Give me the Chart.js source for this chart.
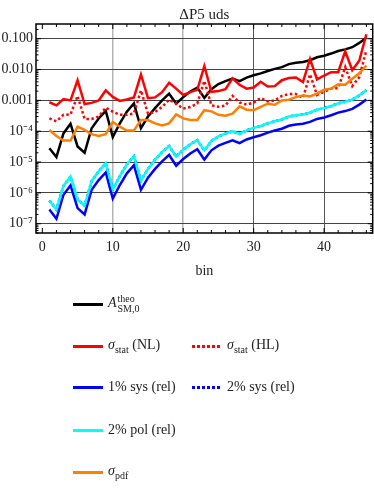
<!DOCTYPE html>
<html>
<head>
<meta charset="utf-8">
<script src="https://cdn.jsdelivr.net/npm/chart.js@4.4.1/dist/chart.umd.min.js"></script>
<style>
  body { margin: 0; background: #fff; }
  #wrap { position: relative; width: 374px; height: 494px; }
  #legend { position: absolute; left: 0; top: 0; width: 374px; height: 494px;
            font-family: "Liberation Serif", serif; font-size: 14px; color: #222; }
  .item { position: absolute; height: 20px; display: flex; align-items: center; white-space: nowrap; }
  .swatch { width: 30px; height: 3px; margin-right: 5px; }
  .ss { display: inline-flex; flex-direction: column; font-size: 10px; line-height: 10px; margin-left: 1px; vertical-align: 5px; }
  sub { font-size: 10px; }
</style>
</head>
<body>
<div id="wrap">
  <canvas id="chart" width="374" height="494"></canvas>
  <div id="legend"></div>
</div>
<script>
// bins and series
const bins = [1,2,3,4,5,6,7,8,9,10,11,12,13,14,15,16,17,18,19,20,21,22,23,24,25,26,27,28,29,30,31,32,33,34,35,36,37,38,39,40,41,42,43,44,45,46];

const theo = [2.8e-5,1.45e-5,8.5e-5,1.75e-4,3.2e-5,2.0e-5,1.25e-4,2.6e-4,4.6e-4,6.5e-5,
  1.8e-4,4.3e-4,8.0e-4,1.25e-4,3.0e-4,5.6e-4,1.0e-3,1.65e-3,7.8e-4,1.28e-3,
  1.95e-3,2.6e-3,1.2e-3,2.3e-3,3.4e-3,4.2e-3,5.1e-3,4.2e-3,5.5e-3,6.5e-3,
  7.5e-3,9.0e-3,1.05e-2,1.2e-2,1.5e-2,1.65e-2,1.75e-2,2.0e-2,2.5e-2,2.8e-2,
  3.3e-2,4.0e-2,4.5e-2,5.3e-2,7.3e-2,1.07e-1];

const statNL = [8.7e-4,6.9e-4,1.1e-3,1.0e-3,4.5e-3,7.6e-4,8.3e-4,1.0e-3,2.1e-3,1.3e-3,
  9.6e-4,1.07e-3,1.25e-3,6.9e-3,1.18e-3,1.25e-3,1.85e-3,3.7e-3,2.4e-3,1.5e-3,
  1.85e-3,2.2e-3,1.3e-2,1.9e-3,2.0e-3,2.3e-3,5.2e-3,3.2e-3,2.4e-3,2.6e-3,
  4.0e-3,2.8e-3,2.9e-3,4.5e-3,5.3e-3,5.5e-3,3.9e-3,2.2e-2,4.8e-3,6.4e-3,
  8.2e-3,8.2e-3,3.9e-2,9.5e-3,1.95e-2,1.4e-1];

const statHL = [2.6e-4,2.1e-4,3.4e-4,3.5e-4,1.4e-3,2.5e-4,2.5e-4,3.0e-4,5.8e-4,4.3e-4,
  3.4e-4,3.4e-4,3.8e-4,2.1e-3,3.7e-4,4.2e-4,6.1e-4,1.05e-3,7.9e-4,5.4e-4,
  6.1e-4,7.9e-4,4.3e-3,6.9e-4,6.2e-4,6.8e-4,1.4e-3,8.5e-4,7.3e-4,8.5e-4,
  1.2e-3,9.2e-4,1.0e-3,1.4e-3,1.6e-3,1.6e-3,1.2e-3,7.0e-3,1.5e-3,1.9e-3,
  2.4e-3,2.5e-3,1.2e-2,2.9e-3,5.7e-3,4.2e-2];

const sys1 = [2.9e-7,1.45e-7,8.7e-7,1.75e-6,3.2e-7,2.0e-7,1.25e-6,2.6e-6,4.6e-6,6.5e-7,
  1.8e-6,4.3e-6,7.9e-6,1.25e-6,3.1e-6,6.0e-6,1.05e-5,1.7e-5,7.6e-6,1.25e-5,
  1.9e-5,2.6e-5,1.2e-5,2.4e-5,3.4e-5,4.2e-5,5.1e-5,4.1e-5,5.4e-5,6.4e-5,
  7.4e-5,9.0e-5,1.05e-4,1.2e-4,1.5e-4,1.65e-4,1.75e-4,2.0e-4,2.5e-4,2.8e-4,
  3.3e-4,4.0e-4,4.5e-4,5.3e-4,7.3e-4,1.07e-3];

const sys2 = [5.7e-7,2.9e-7,1.7e-6,3.4e-6,6.0e-7,3.9e-7,2.4e-6,5.0e-6,9.2e-6,1.3e-6,
  3.5e-6,8.5e-6,1.55e-5,2.5e-6,6.0e-6,1.2e-5,2.1e-5,3.3e-5,1.5e-5,2.5e-5,
  3.8e-5,5.1e-5,2.4e-5,4.8e-5,6.8e-5,8.4e-5,1.0e-4,8.2e-5,1.07e-4,1.28e-4,
  1.48e-4,1.8e-4,2.1e-4,2.4e-4,3.0e-4,3.3e-4,3.5e-4,4.0e-4,5.0e-4,5.6e-4,
  6.6e-4,8.0e-4,9.0e-4,1.06e-3,1.46e-3,2.14e-3];

const pol2 = [5.7e-7,2.9e-7,1.7e-6,3.4e-6,6.0e-7,3.9e-7,2.4e-6,5.0e-6,9.2e-6,1.3e-6,
  3.5e-6,8.5e-6,1.55e-5,2.5e-6,6.0e-6,1.2e-5,2.1e-5,3.3e-5,1.5e-5,2.5e-5,
  3.8e-5,5.1e-5,2.4e-5,4.8e-5,6.8e-5,8.4e-5,1.0e-4,8.2e-5,1.07e-4,1.28e-4,
  1.48e-4,1.8e-4,2.1e-4,2.4e-4,3.0e-4,3.3e-4,3.5e-4,4.0e-4,5.0e-4,5.6e-4,
  6.6e-4,8.0e-4,9.0e-4,1.06e-3,1.46e-3,2.14e-3];

const pdf = [1.1e-4,7.0e-5,5.0e-5,5.0e-5,1.4e-4,1.1e-4,8.0e-5,7.0e-5,8.0e-5,2.0e-4,
  1.4e-4,1.05e-4,1.05e-4,2.3e-4,2.3e-4,1.8e-4,1.55e-4,1.8e-4,3.5e-4,2.6e-4,
  2.3e-4,2.3e-4,4.8e-4,4.4e-4,3.4e-4,3.2e-4,3.7e-4,6.4e-4,5.0e-4,4.8e-4,
  6.2e-4,7.8e-4,7.2e-4,1.0e-3,1.05e-3,1.28e-3,1.45e-3,1.35e-3,1.65e-3,2.2e-3,
  2.4e-3,3.3e-3,3.2e-3,5.0e-3,7.6e-3,1.35e-2];

const xTicks = [0, 10, 20, 30, 40];
const yTicks = [1e-7, 1e-6, 1e-5, 1e-4, 1e-3, 1e-2, 1e-1];
const yTickLabels = ['10⁻⁷', '10⁻⁶', '10⁻⁵', '10⁻⁴', '0.001', '0.010', '0.100'];

const serif = '"Liberation Serif", serif';

// series: values, colour, dashed?, legend text (html), legend row/col
const series = [
  { data: theo,   color: '#000000', dash: false, label: 'A_SM,0^theo', html: '<i>A</i><span class="ss"><span>theo</span><span>SM,0</span></span>', row: 0, col: 0 },
  { data: statNL, color: '#ff0000', dash: false, label: 'σstat (NL)', html: '<i>σ</i><sub>stat</sub>&nbsp;(NL)', row: 1, col: 0 },
  { data: statHL, color: '#ff0000', dash: true,  label: 'σstat (HL)', html: '<i>σ</i><sub>stat</sub>&nbsp;(HL)', row: 1, col: 1 },
  { data: sys1,   color: '#0000ff', dash: false, label: '1% sys (rel)', html: '1% sys (rel)', row: 2, col: 0 },
  { data: sys2,   color: '#0000ff', dash: true,  label: '2% sys (rel)', html: '2% sys (rel)', row: 2, col: 1 },
  { data: pol2,   color: '#00ffff', dash: false, label: '2% pol (rel)', html: '2% pol (rel)', row: 3, col: 0 },
  { data: pdf,    color: '#ff8000', dash: false, label: 'σpdf', html: '<i>σ</i><sub>pdf</sub>', row: 4, col: 0 }
];

const datasets = series.map((s, i) => ({
  label: s.label,
  data: bins.map((b, j) => ({ x: b, y: s.data[j] })),
  borderColor: s.color,
  borderWidth: 2.5,
  borderDash: s.dash ? [2.5, 2.5] : [],
  pointRadius: 0,
  fill: false,
  tension: 0,
  order: series.length - i
}));

// frame and inward tick marks
const framePlugin = {
  id: 'frame',
  afterDraw(chart) {
    const ctx = chart.ctx, a = chart.chartArea;
    const xs = chart.scales.x, ys = chart.scales.y;
    ctx.save();
    ctx.strokeStyle = '#000';
    ctx.lineWidth = 1;
    ctx.beginPath();
    for (let v = 0; v <= 46; v += 2) {
      const px = xs.getPixelForValue(v);
      const len = v % 10 === 0 ? 5 : 3;
      ctx.moveTo(px, a.bottom); ctx.lineTo(px, a.bottom - len);
      ctx.moveTo(px, a.top); ctx.lineTo(px, a.top + len);
    }
    for (let e = -8; e <= 0; e++) {
      for (let k = 1; k <= 9; k++) {
        const v = k * Math.pow(10, e);
        if (v < ys.min || v > ys.max) continue;
        const py = ys.getPixelForValue(v);
        const len = k === 1 ? 5 : 2.5;
        ctx.moveTo(a.left, py); ctx.lineTo(a.left + len, py);
        ctx.moveTo(a.right, py); ctx.lineTo(a.right - len, py);
      }
    }
    ctx.stroke();
    ctx.lineWidth = 1.5;
    ctx.strokeRect(a.left, a.top, a.right - a.left, a.bottom - a.top);
    ctx.restore();
  }
};

new Chart(document.getElementById('chart'), {
  type: 'line',
  data: { datasets: datasets },
  options: {
    responsive: false,
    animation: false,
    devicePixelRatio: 1,
    layout: { padding: { top: 0, right: 1.3, bottom: 213, left: 0 } },
    plugins: {
      legend: { display: false },
      tooltip: { enabled: false },
      title: {
        display: true, text: 'ΔP5 uds', color: '#222', fullSize: false,
        font: { family: serif, size: 15, weight: 'normal' },
        padding: { top: 6, bottom: 0 }
      }
    },
    scales: {
      x: {
        type: 'linear', min: -0.9, max: 46.9,
        afterBuildTicks: s => { s.ticks = xTicks.map(v => ({ value: v })); },
        afterFit: s => { s.height = 48; },
        ticks: { color: '#222', font: { family: serif, size: 14 }, padding: 6, maxRotation: 0 },
        grid: {
          drawTicks: false,
          color: c => (c.tick && c.tick.value === 0) ? 'rgba(0,0,0,0)' : (c.tick && c.tick.value >= 30 ? '#555' : '#b5b5b5'),
          lineWidth: c => (c.tick && c.tick.value >= 30) ? 1 : 1.5
        },
        border: { display: false },
        title: { display: true, text: 'bin', color: '#222', font: { family: serif, size: 14 }, padding: { top: 0, bottom: 1 } }
      },
      y: {
        type: 'logarithmic', min: 5e-8, max: 0.3,
        afterBuildTicks: s => { s.ticks = yTicks.map(v => ({ value: v })); },
        afterFit: s => { s.width = 36; },
        ticks: { color: '#222', font: { family: serif, size: 14 }, padding: 3,
                 callback: (v, i) => yTickLabels[i] },
        grid: { drawTicks: false, color: '#444', lineWidth: 1 },
        border: { display: false }
      }
    }
  },
  plugins: [framePlugin]
});

// legend below the plot
const rowY = [304, 346, 387, 430, 472];
const colX = [73, 192];
const legend = document.getElementById('legend');
series.forEach(s => {
  const item = document.createElement('div');
  item.className = 'item';
  item.style.left = colX[s.col] + 'px';
  item.style.top = (rowY[s.row] - 10) + 'px';
  const sw = document.createElement('span');
  sw.className = 'swatch';
  sw.style.background = s.dash
    ? 'repeating-linear-gradient(90deg, ' + s.color + ' 0 2.5px, transparent 2.5px 5px)'
    : s.color;
  const txt = document.createElement('span');
  txt.innerHTML = s.html;
  item.appendChild(sw);
  item.appendChild(txt);
  legend.appendChild(item);
});
</script>
</body>
</html>
